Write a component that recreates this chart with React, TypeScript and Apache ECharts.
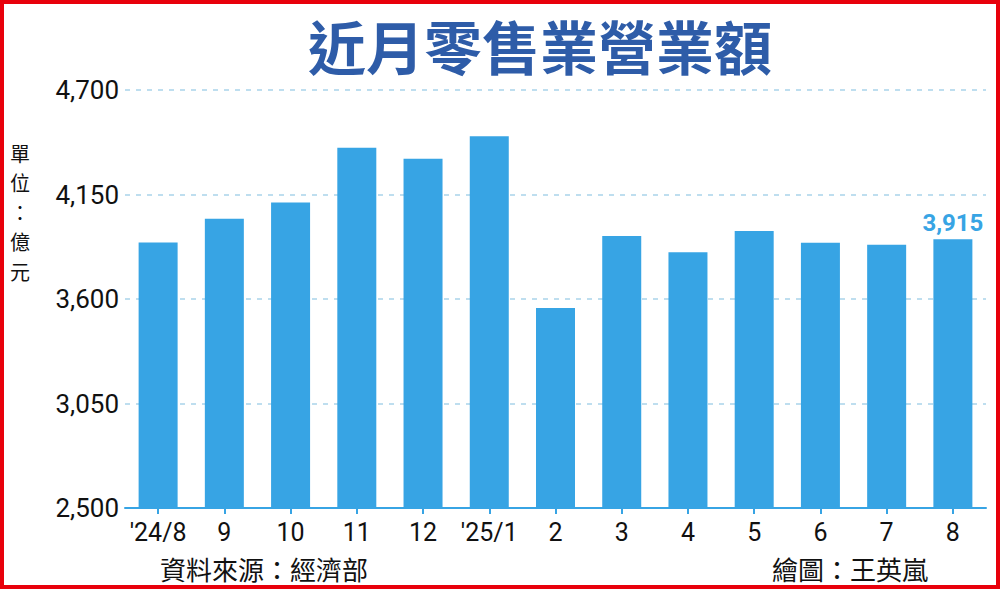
import React, { useEffect, useRef } from "react";
import * as echarts from "echarts";

const categories = ["'24/8", "9", "10", "11", "12", "'25/1", "2", "3", "4", "5", "6", "7", "8"];
const values = [3898, 4022, 4108, 4396, 4338, 4456, 3553, 3932, 3846, 3958, 3896, 3886, 3915];
const yTicks = { min: 2500, max: 4700, interval: 550 };
const title = "近月零售業營業額";
const unitLabel = "單位：億元";
const sourceText = "資料來源：經濟部";
const creditText = "繪圖：王英嵐";

const BAR = "#37a4e4";
const FONT = "Roboto, 'Noto Sans CJK TC', sans-serif";
const CJK = "'Noto Sans CJK TC', sans-serif";

export default function App() {
  const ref = useRef<HTMLDivElement>(null);
  useEffect(() => {
    if (!ref.current) return;
    const chart = echarts.init(ref.current, null, { renderer: "svg" });
    const last = values.length - 1;
    const unitChars = unitLabel.split("").map((ch, i) => ({
      type: "text",
      x: 20,
      y: 143 + i * 29.5,
      style: {
        text: ch,
        fill: "#111",
        fontSize: 20,
        lineHeight: 20,
        fontFamily: CJK,
        align: "center",
        verticalAlign: "top",
      },
    }));
    chart.setOption({
      animation: false,
      backgroundColor: "#ffffff",
      grid: { left: 125, right: 14, top: 90, bottom: 81, containLabel: false },
      xAxis: {
        type: "category",
        data: categories,
        boundaryGap: true,
        axisLine: { show: true, lineStyle: { color: BAR, width: 2 } },
        axisTick: { show: true, alignWithLabel: true, length: 6, interval: 0, lineStyle: { color: BAR, width: 2 } },
        axisLabel: { color: "#111", fontSize: 25, fontFamily: FONT, margin: 12, interval: 0 },
      },
      yAxis: {
        type: "value",
        min: yTicks.min,
        max: yTicks.max,
        interval: yTicks.interval,
        axisLine: { show: false },
        axisTick: { show: false },
        axisLabel: {
          color: "#111",
          fontSize: 26,
          fontFamily: FONT,
          margin: 6,
          formatter: (v: number) => v.toLocaleString("en-US"),
        },
        splitLine: { show: true, lineStyle: { color: "#a9d3ea", type: [5, 6], width: 1.5 } },
      },
      series: [
        {
          type: "bar",
          barWidth: 39,
          itemStyle: { color: BAR },
          data: values.map((v, i) =>
            i === last
              ? {
                  value: v,
                  label: {
                    show: true,
                    position: "top",
                    distance: 4,
                    color: BAR,
                    fontSize: 24,
                    fontWeight: "bold",
                    fontFamily: FONT,
                    formatter: (p: any) => Number(p.value).toLocaleString("en-US"),
                  },
                }
              : v
          ),
        },
      ],
      graphic: [
        {
          type: "rect",
          shape: { x: 2, y: 2, width: 996, height: 585 },
          style: { fill: "none", stroke: "#e8000b", lineWidth: 4 },
          silent: true,
        },
        {
          type: "text",
          x: 540,
          y: 14,
          style: {
            text: title,
            fill: "#2e5ca8",
            fontSize: 58,
            lineHeight: 62,
            fontWeight: "bold",
            fontFamily: CJK,
            align: "center",
            verticalAlign: "top",
          },
        },
        ...unitChars,
        {
          type: "text",
          x: 160,
          y: 555,
          style: {
            text: sourceText,
            fill: "#111",
            fontSize: 26,
            fontFamily: CJK,
            align: "left",
            verticalAlign: "top",
          },
        },
        {
          type: "text",
          x: 772,
          y: 555,
          style: {
            text: creditText,
            fill: "#111",
            fontSize: 26,
            fontFamily: CJK,
            align: "left",
            verticalAlign: "top",
          },
        },
      ],
    });
    return () => chart.dispose();
  }, []);
  return (
    <div
      ref={ref}
      style={{ position: "absolute", left: 0, top: 0, width: 1000, height: 589 }}
    />
  );
}
